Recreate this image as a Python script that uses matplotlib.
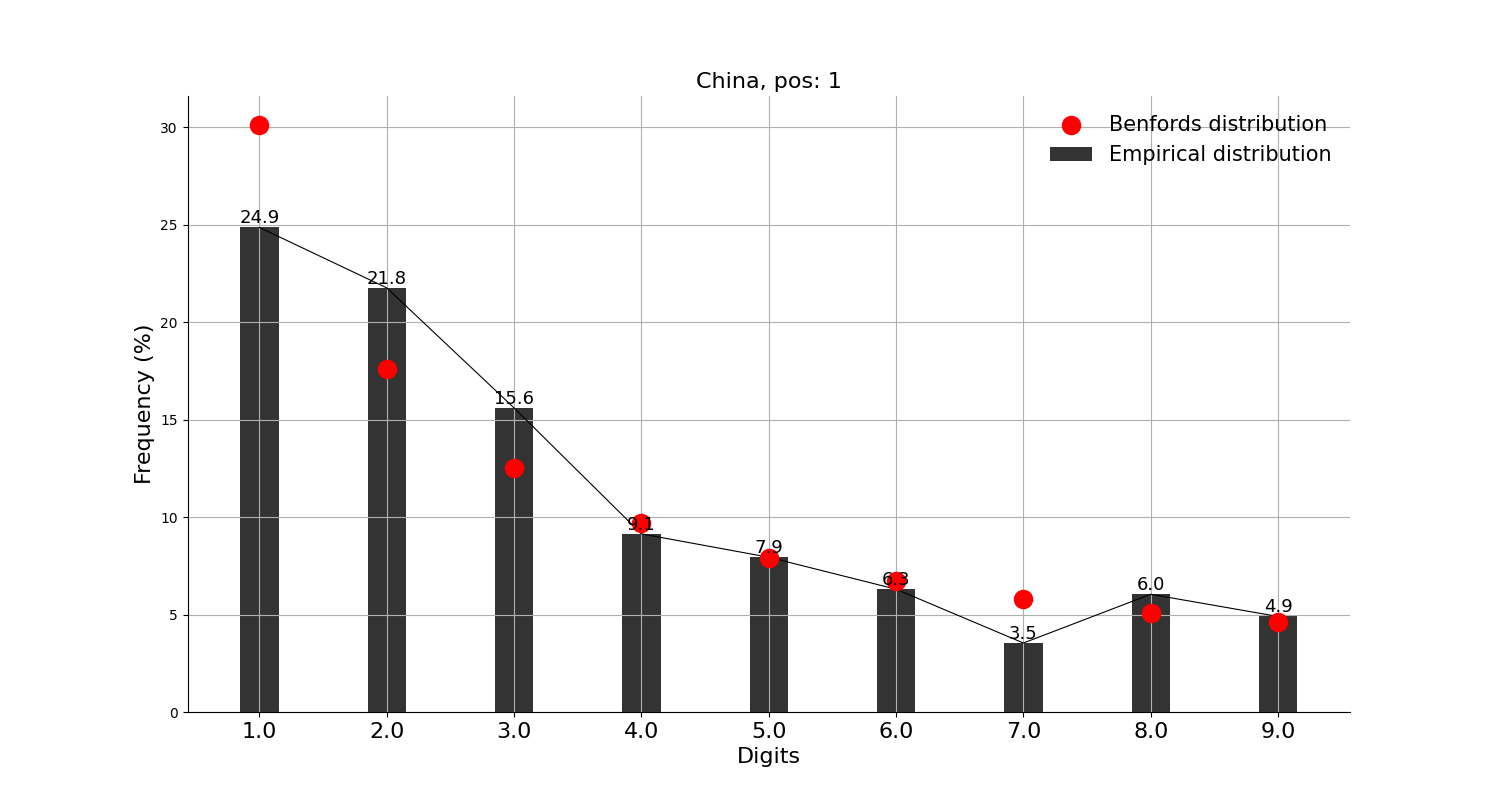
import matplotlib.pyplot as plt
import numpy as np

digits = [1.0, 2.0, 3.0, 4.0, 5.0, 6.0, 7.0, 8.0, 9.0]
empirical = [24.86, 21.76, 15.6, 9.14, 7.94, 6.3, 3.54, 6.04, 4.9]
benford = [30.1, 17.6, 12.5, 9.7, 7.9, 6.7, 5.8, 5.1, 4.6]

fig, ax = plt.subplots(figsize=(15, 8), dpi=100)

ax.bar(digits, empirical, width=0.3, color='#333333', label='Empirical distribution')
ax.plot(digits, empirical, color='black', linewidth=0.8)
ax.scatter(digits, benford, s=170, color='red', zorder=3, label='Benfords distribution')

for x, v in zip(digits, empirical):
    ax.text(x, v, '%.1f' % v, ha='center', va='bottom', fontsize=13)

ax.set_title('China, pos: 1', fontsize=16)
ax.set_xlabel('Digits', fontsize=16)
ax.set_ylabel('Frequency (%)', fontsize=16)
ax.set_xticks(digits)
ax.set_xticklabels([str(d) for d in digits], fontsize=16)
ax.grid(True)
ax.spines['top'].set_visible(False)
ax.spines['right'].set_visible(False)

ax.legend(loc='upper right', fontsize=15, frameon=False)

plt.savefig('out.png')
